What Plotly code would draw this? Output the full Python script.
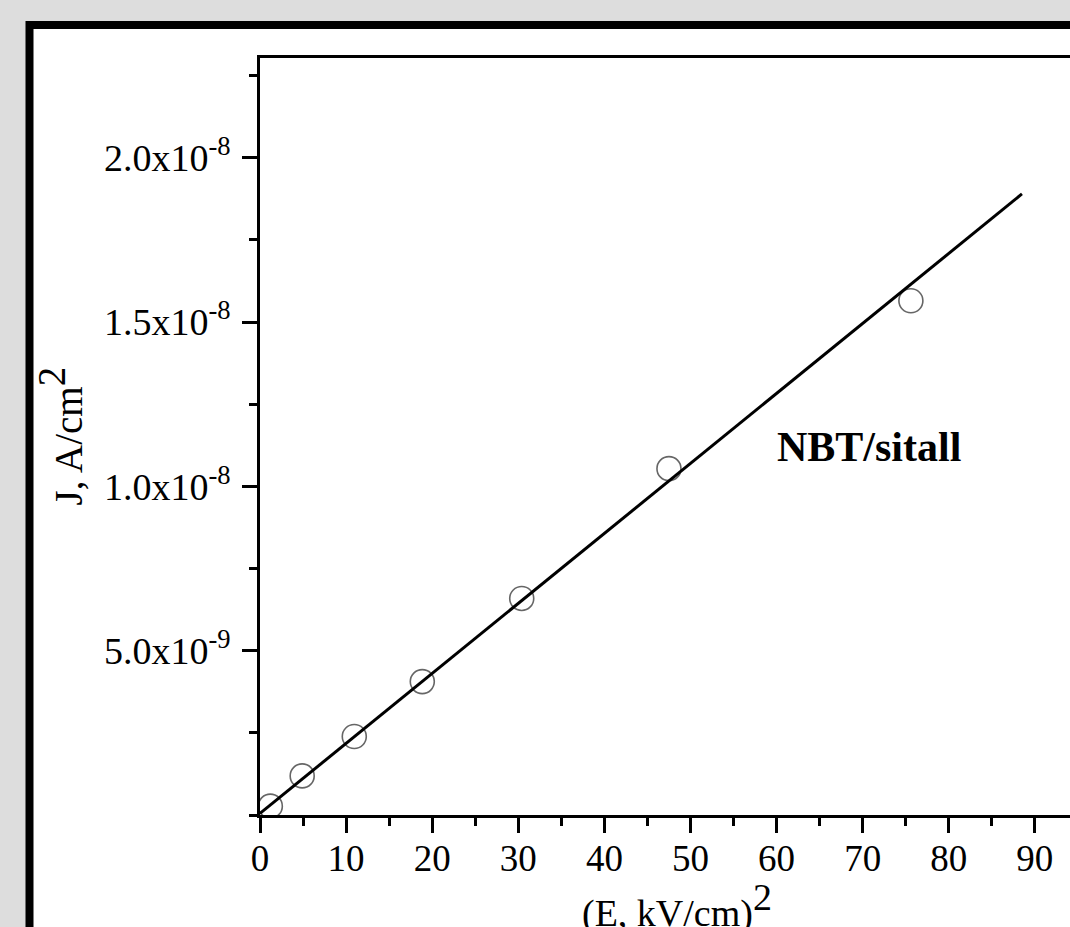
import plotly.graph_objects as go

# ---- data ----
e2_kv_cm = [1.2, 4.9, 10.95, 18.85, 30.4, 47.5, 75.6]
j_a_cm2 = [0.27e-9, 1.19e-9, 2.39e-9, 4.06e-9, 6.59e-9, 1.054e-8, 1.565e-8]

fit_x = [0.0, 88.5]
fit_y = [0.05e-9, 1.89e-8]

y_tickvals = [5e-9, 1.0e-8, 1.5e-8, 2.0e-8]
y_ticktext = ["5.0x10<sup>-9</sup>", "1.0x10<sup>-8</sup>",
              "1.5x10<sup>-8</sup>", "2.0x10<sup>-8</sup>"]

x_range = [0, 94.08]
y_range = [0, 2.3037e-8]

FONT = "Liberation Serif, Times New Roman, serif"

fig = go.Figure()
fig.add_trace(go.Scatter(
    x=e2_kv_cm, y=j_a_cm2, mode="markers",
    marker=dict(symbol="circle-open", size=24, color="#666666",
                line=dict(width=1.6, color="#666666")),
    showlegend=False, hoverinfo="skip"))
fig.add_trace(go.Scatter(
    x=fit_x, y=fit_y, mode="lines",
    line=dict(color="black", width=3),
    showlegend=False, hoverinfo="skip"))

W, H = 1070, 927
ml, mr, mt, mb = 260, 0, 58, 112
pw, ph = W - ml - mr, H - mt - mb

def px_to_paper_x(px):
    return (px - ml) / pw

def px_to_paper_y(py):
    return (H - mb - py) / ph

fig.add_shape(type="rect", xref="paper", yref="paper",
              x0=px_to_paper_x(29.5), x1=px_to_paper_x(1300),
              y0=px_to_paper_y(1200), y1=px_to_paper_y(25),
              line=dict(color="black", width=8), fillcolor="white",
              layer="below")

fig.add_annotation(text="<b>NBT/sitall</b>", x=70.7, y=1.12e-8,
                   xref="x", yref="y", showarrow=False,
                   font=dict(family=FONT, size=42, color="black"),
                   xanchor="center", yanchor="middle")

def sup_big(sz):
    return '<sup><span style="font-size:%dpx">2</span></sup>' % sz

fig.add_annotation(text="(E, kV/cm)" + sup_big(38),
                   x=px_to_paper_x(677), y=0, xref="paper", yref="paper",
                   showarrow=False, xanchor="center", yanchor="middle",
                   yshift=-90,
                   font=dict(family=FONT, size=38, color="black"))
fig.add_annotation(text="J, A/cm" + sup_big(39), textangle=-90,
                   x=px_to_paper_x(60), y=0.5, xref="paper", yref="paper",
                   showarrow=False, xanchor="center", yanchor="middle",
                   font=dict(family=FONT, size=39, color="black"))

fig.update_xaxes(range=x_range, tickmode="linear", tick0=0, dtick=10,
                 showline=True, linecolor="black", linewidth=2.5,
                 mirror=True, ticks="outside", ticklen=15, tickwidth=2.5,
                 tickcolor="black", showgrid=False, zeroline=False,
                 ticklabelstandoff=-6,
                 tickfont=dict(family=FONT, size=37, color="black"),
                 minor=dict(tickmode="linear", tick0=0, dtick=5, ticks="outside",
                            ticklen=8, tickwidth=2.5, tickcolor="black",
                            showgrid=False))
fig.update_yaxes(range=y_range, tickmode="array", tickvals=y_tickvals,
                 ticktext=y_ticktext, ticklabelstandoff=4,
                 showline=True, linecolor="black", linewidth=2.5,
                 mirror=False, ticks="outside", ticklen=15, tickwidth=2.5,
                 tickcolor="black", showgrid=False, zeroline=False,
                 tickfont=dict(family=FONT, size=38, color="black"),
                 minor=dict(tickmode="linear", tick0=0, dtick=2.5e-9,
                            ticks="outside", ticklen=8, tickwidth=2.5,
                            tickcolor="black", showgrid=False))

fig.update_layout(width=W, height=H,
                  margin=dict(l=ml, r=mr, t=mt, b=mb, pad=0),
                  paper_bgcolor="#dddddd", plot_bgcolor="white",
                  font=dict(family=FONT, color="black"))

fig.write_html("out.html", config={"displayModeBar": False},
               post_script="document.body.style.margin='0';"
                           "document.body.style.overflow='hidden';")
